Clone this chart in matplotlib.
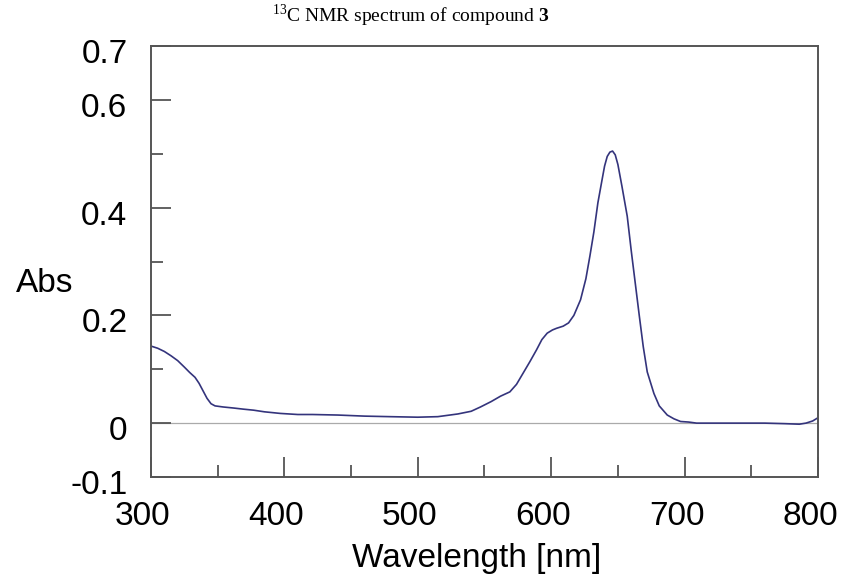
import numpy as np
import matplotlib.pyplot as plt
import matplotlib.transforms as mtrans
from matplotlib.ticker import MultipleLocator, FixedLocator

plt.rcParams.update({
    "font.family": "Liberation Sans",
    "mathtext.fontset": "custom",
    "mathtext.rm": "Liberation Serif",
    "mathtext.bf": "Liberation Serif:bold",
})

# absorbance spectrum
wavelength = [300, 305, 310, 315, 320, 325, 329, 333, 336, 339, 342, 345, 348, 354,
              362, 369, 377, 385, 397, 410, 421, 440, 460, 479, 500, 515, 530,
              540, 547, 555, 562, 569, 574, 579, 584, 589, 593, 597, 601, 604,
              609, 613, 617, 622, 626, 629, 632, 635, 638, 640, 642, 644, 646, 648,
              650, 653, 657, 660, 663, 666, 669, 672, 677, 681, 687, 692, 697,
              703, 709, 720, 740, 760, 775, 786, 791, 796, 800]
absorbance = [0.143, 0.139, 0.133, 0.125, 0.116, 0.104, 0.094, 0.085, 0.074, 0.060,
              0.046, 0.036, 0.032, 0.030, 0.028, 0.026, 0.024, 0.021, 0.018, 0.016,
              0.016, 0.015, 0.013, 0.012, 0.011, 0.012, 0.017, 0.022, 0.030, 0.040,
              0.050, 0.058, 0.072, 0.093, 0.114, 0.136, 0.155, 0.167, 0.173, 0.176,
              0.180, 0.186, 0.200, 0.229, 0.268, 0.310, 0.355, 0.409, 0.450, 0.477,
              0.495, 0.503, 0.505, 0.498, 0.480, 0.440, 0.384, 0.320, 0.260, 0.200,
              0.142, 0.095, 0.055, 0.032, 0.015, 0.008, 0.003, 0.002, 0.000, 0.000,
              0.000, 0.000, -0.001, -0.002, 0.000, 0.004, 0.010]

ytick_vals = [0.7, 0.6, 0.4, 0.2, 0, -0.1]
ytick_labels = ["0.7", "0.6", "0.4", "0.2", "0", "-0.1"]
xtick_vals = [300, 400, 500, 600, 700, 800]

fig = plt.figure(figsize=(8.45, 5.79), dpi=100)
ax = fig.add_axes([151 / 845, 1 - 477 / 579, 667 / 845, 431 / 579])

ax.axhline(0, color="#aaaaaa", lw=0.9, zorder=1)
ax.plot(wavelength, absorbance, color="#34347c", lw=1.2, zorder=2)

ax.set_xlim(300, 800)
ax.set_ylim(-0.1, 0.7)

ax.xaxis.set_major_locator(FixedLocator(xtick_vals))
ax.xaxis.set_minor_locator(MultipleLocator(50))
ax.yaxis.set_major_locator(FixedLocator(ytick_vals))
ax.set_yticklabels(ytick_labels)
ax.yaxis.set_minor_locator(FixedLocator([0.5, 0.3, 0.1]))

ax.tick_params(which="both", direction="in", colors="#555555", labelcolor="black",
               labelsize=24, width=1.3)
ax.tick_params(which="major", length=14.5)
ax.tick_params(which="minor", length=8.5)
ax.tick_params(axis="x", pad=17)
ax.tick_params(axis="y", pad=17)

# tick labels sit a little off their ticks in the original
dx = mtrans.ScaledTranslation(-8 / 100, 0, fig.dpi_scale_trans)
dy = mtrans.ScaledTranslation(0, -5 / 100, fig.dpi_scale_trans)
for lab in ax.get_xticklabels():
    lab.set_transform(lab.get_transform() + dx)
for lab in ax.get_yticklabels():
    lab.set_transform(lab.get_transform() + dy)

for s in ax.spines.values():
    s.set_color("#555555")
    s.set_linewidth(1.4)

ax.set_xlabel("Wavelength [nm]", fontsize=24, labelpad=8)
ax.xaxis.label.set_x(0.488)
ax.text(-0.16, 0.45, "Abs", transform=ax.transAxes, fontsize=24,
        ha="center", va="center")

fig.text(411 / 845, 1 - 16 / 579, r"$^{13}$C NMR spectrum of compound $\mathbf{3}$",
         fontsize=14, family="Liberation Serif", ha="center", va="center")

fig.savefig("out.png", dpi=100)
